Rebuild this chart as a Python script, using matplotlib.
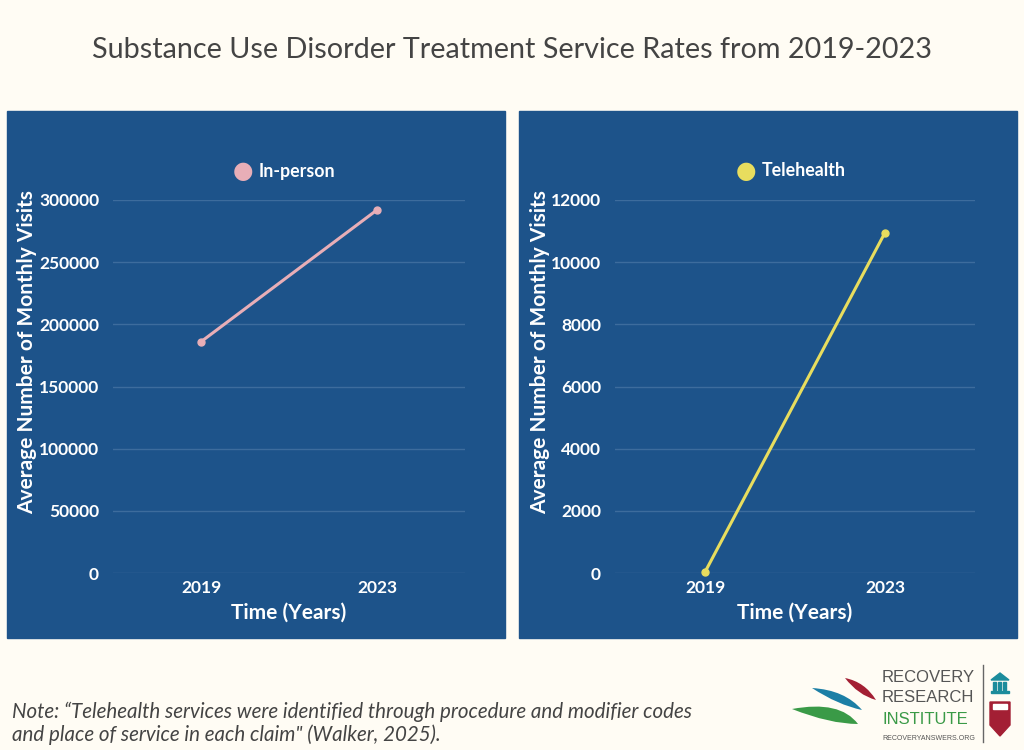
import matplotlib.pyplot as plt
from matplotlib.patches import Rectangle, PathPatch, Polygon
from matplotlib.path import Path

years = ['2019', '2023']
in_person = [186000, 292000]
telehealth = [30, 10950]
series_names = ['In-person', 'Telehealth']

BG = '#FFFCF4'
PANEL = '#1D538A'
GRID = '#3D6C9D'
PINK = '#E8AEB7'
YELLOW = '#E8DD5E'
FONT = 'Lato'

W, H = 1024, 750
fig = plt.figure(figsize=(W / 100, H / 100), dpi=100, facecolor=BG)


def fx(px):
    return px / W


def fy(py):
    return 1 - py / H


# blue panels behind the two charts
for x0, x1 in [(7, 505), (519, 1017)]:
    fig.patches.append(Rectangle((fx(x0), fy(638)), fx(x1 - x0), (638 - 111) / H,
                                 transform=fig.transFigure, color=PANEL, zorder=-5))

fig.text(0.5, fy(50), 'Substance Use Disorder Treatment Service Rates from 2019-2023',
         ha='center', va='center', fontsize=20.7, color='#444444', family=FONT)


def draw_panel(left_px, right_px, values, ymax, step, color, name, ylab_px, leg_px):
    ax = fig.add_axes([fx(left_px), fy(573), fx(right_px - left_px), (573 - 200) / H])
    ax.set_facecolor('none')
    ax.plot(range(len(years)), values, color=color, lw=2.2, marker='o', ms=5,
            solid_capstyle='round', zorder=3, clip_on=False)
    ax.set_xlim(-0.5, len(years) - 0.5)
    ax.set_ylim(0, ymax)
    ax.set_yticks(range(0, ymax + 1, step))
    ax.set_xticks(range(len(years)))
    ax.set_xticklabels(years)
    ax.grid(axis='y', color=GRID, lw=1)
    ax.set_axisbelow(True)
    for s in ax.spines.values():
        s.set_visible(False)
    ax.tick_params(length=0, colors='white', labelsize=12.5)
    ax.tick_params(axis='y', pad=10)
    ax.tick_params(axis='x', pad=5)
    for lbl in ax.get_xticklabels() + ax.get_yticklabels():
        lbl.set_fontweight('bold')
        lbl.set_family(FONT)
    ax.set_xlabel('Time (Years)', color='white', fontsize=15, fontweight='bold',
                  family=FONT, labelpad=5)
    fig.text(fx(ylab_px), fy(352), 'Average Number of Monthly Visits', rotation=90,
             ha='center', va='center', color='white', fontsize=15, fontweight='bold',
             family=FONT)
    # legend marker + label
    fig.text(fx(leg_px), fy(171), '\u25CF', ha='center', va='center', color=color,
             fontsize=17, family='DejaVu Sans')
    fig.text(fx(leg_px + 16), fy(171), name, ha='left', va='center', color='white',
             fontsize=12.8, fontweight='bold', family=FONT)
    return ax


draw_panel(113, 465, in_person, 300000, 50000, PINK, series_names[0], 27, 243)
draw_panel(615, 975, telehealth, 12000, 2000, YELLOW, series_names[1], 540, 746)

# note
fig.text(fx(12), fy(712), 'Note: \u201cTelehealth services were identified through procedure and modifier codes',
         ha='left', va='center', fontsize=14.8, style='italic', color='#444444', family=FONT)
fig.text(fx(12), fy(735), 'and place of service in each claim" (Walker, 2025).',
         ha='left', va='center', fontsize=14.8, style='italic', color='#444444', family=FONT)

# logo
lax = fig.add_axes([fx(770), 0, fx(254), 100 / H])
lax.set_xlim(770, 1024)
lax.set_ylim(750, 650)
lax.axis('off')


def leaf(p0, c1, p1, c2, color):
    verts = [p0, c1, p1, c2, p0]
    codes = [Path.MOVETO, Path.CURVE3, Path.CURVE3, Path.CURVE3, Path.CURVE3]
    lax.add_patch(PathPatch(Path(verts, codes), color=color, lw=0))


leaf((792, 709), (840, 700), (858, 724), (830, 724), '#3A9A47')
leaf((812, 688), (845, 690), (862, 710), (838, 705), '#1C7FA6')
leaf((845, 678), (865, 682), (876, 700), (858, 695), '#A31F34')
lax.text(882, 678, 'RECOVERY', fontsize=12, color='#555555', va='center', family='Liberation Sans')
lax.text(882, 698, 'RESEARCH', fontsize=12, color='#555555', va='center', family='Liberation Sans')
lax.text(882, 719, 'INSTITUTE', fontsize=12, color='#3A9A47', va='center', family='Liberation Sans')
lax.text(882, 739, 'RECOVERYANSWERS.ORG', fontsize=5, color='#555555', va='center', family='Liberation Sans')
lax.plot([983, 983], [665, 742], color='#666666', lw=1)
# building icon
lax.add_patch(Polygon([(991, 680), (1000, 673), (1009, 680)], closed=True, color='#1C8C9C'))
for bx in [993, 998, 1003]:
    lax.add_patch(Rectangle((bx, 682), 2.5, 8, color='#1C8C9C'))
lax.add_patch(Rectangle((991, 691), 18, 2, color='#1C8C9C'))
# shield
lax.add_patch(Polygon([(990, 702), (1010, 702), (1010, 725), (1000, 736), (990, 725)],
                      closed=True, color='#A31F34'))
lax.add_patch(Rectangle((993, 704), 14, 5, color='white'))

fig.savefig('out.png', dpi=100, facecolor=BG)
